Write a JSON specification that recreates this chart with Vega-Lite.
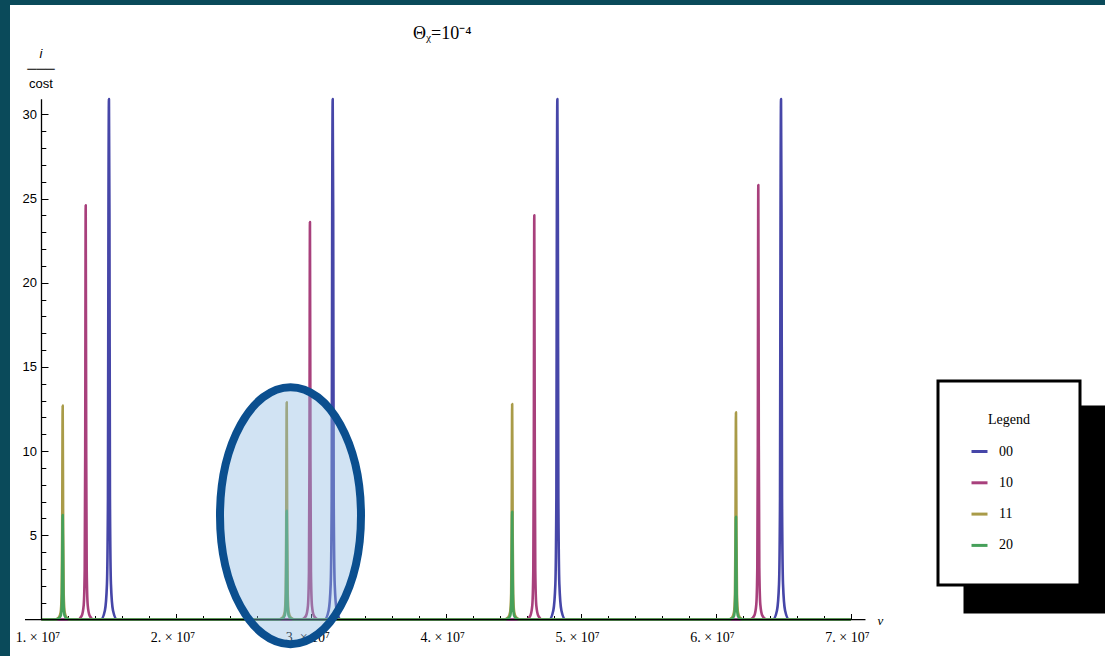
{
  "$schema": "https://vega.github.io/schema/vega-lite/v6.json",
  "width": 1095,
  "height": 651,
  "autosize": {"type": "none"},
  "padding": {"left": 10, "top": 5, "right": 0, "bottom": 0},
  "background": "#0a4a5a",
  "config": {
    "view": {"fill": "white", "stroke": null},
    "axis": {"labelColor": "black", "tickColor": "black", "titleColor": "black", "domainColor": "black", "grid": false},
    "legend": {
      "padding": 32,
      "strokeWidth": 3,
      "cornerRadius": 0,
      "titleFont": "Liberation Serif",
      "titleFontSize": 14,
      "titleFontWeight": "normal",
      "titleAnchor": "middle",
      "titlePadding": 15,
      "labelFont": "Liberation Serif",
      "labelFontSize": 14,
      "labelOffset": 10,
      "rowPadding": 14.3,
      "symbolSize": 256,
      "gradientVerticalMaxLength": 400
    }
  },
  "title": {
    "text": "Θᵪ=10⁻⁴",
    "anchor": "start",
    "frame": "group",
    "dx": 403,
    "offset": -52,
    "baseline": "alphabetic",
    "font": "Liberation Serif",
    "fontSize": 18,
    "fontWeight": "normal",
    "color": "black"
  },
  "resolve": {"axis": {"x": "independent", "y": "independent"}},
  "datasets": {
    "shadow": [{"v": 0}, {"v": 1}],
    "oval": [{"x": 2.8458e7, "y": 6.17}],
    "axes": [
      {"x": 0.8777e7, "x2": 7.108e7, "y": 0, "y2": 0},
      {"x": 1e7, "x2": 1e7, "y": 0, "y2": 30.9}
    ],
    "lines": [
      {"s": "00", "x": 1e7, "y": 0},
      {"s": "00", "x": 1.44e7, "y": 0},
      {"s": "00", "x": 1.47e7, "y": 0.54},
      {"s": "00", "x": 1.4852e7, "y": 2.1},
      {"s": "00", "x": 1.4926e7, "y": 7.2},
      {"s": "00", "x": 1.4963e7, "y": 24},
      {"s": "00", "x": 1.5e7, "y": 30.9},
      {"s": "00", "x": 1.5037e7, "y": 24},
      {"s": "00", "x": 1.5074e7, "y": 7.2},
      {"s": "00", "x": 1.5148e7, "y": 2.1},
      {"s": "00", "x": 1.53e7, "y": 0.54},
      {"s": "00", "x": 1.56e7, "y": 0},
      {"s": "00", "x": 3.0986e7, "y": 0},
      {"s": "00", "x": 3.1286e7, "y": 0.54},
      {"s": "00", "x": 3.1438e7, "y": 2.1},
      {"s": "00", "x": 3.1512e7, "y": 7.2},
      {"s": "00", "x": 3.1549e7, "y": 24},
      {"s": "00", "x": 3.1586e7, "y": 30.9},
      {"s": "00", "x": 3.1623e7, "y": 24},
      {"s": "00", "x": 3.166e7, "y": 7.2},
      {"s": "00", "x": 3.1734e7, "y": 2.1},
      {"s": "00", "x": 3.1886e7, "y": 0.54},
      {"s": "00", "x": 3.2186e7, "y": 0},
      {"s": "00", "x": 4.764e7, "y": 0},
      {"s": "00", "x": 4.794e7, "y": 0.54},
      {"s": "00", "x": 4.8092e7, "y": 2.1},
      {"s": "00", "x": 4.8166e7, "y": 7.2},
      {"s": "00", "x": 4.8203e7, "y": 24},
      {"s": "00", "x": 4.824e7, "y": 30.9},
      {"s": "00", "x": 4.8277e7, "y": 24},
      {"s": "00", "x": 4.8314e7, "y": 7.2},
      {"s": "00", "x": 4.8388e7, "y": 2.1},
      {"s": "00", "x": 4.854e7, "y": 0.54},
      {"s": "00", "x": 4.884e7, "y": 0},
      {"s": "00", "x": 6.422e7, "y": 0},
      {"s": "00", "x": 6.452e7, "y": 0.54},
      {"s": "00", "x": 6.4672e7, "y": 2.1},
      {"s": "00", "x": 6.4746e7, "y": 7.2},
      {"s": "00", "x": 6.4783e7, "y": 24},
      {"s": "00", "x": 6.482e7, "y": 30.9},
      {"s": "00", "x": 6.4857e7, "y": 24},
      {"s": "00", "x": 6.4894e7, "y": 7.2},
      {"s": "00", "x": 6.4968e7, "y": 2.1},
      {"s": "00", "x": 6.512e7, "y": 0.54},
      {"s": "00", "x": 6.542e7, "y": 0},
      {"s": "00", "x": 7e7, "y": 0},

      {"s": "10", "x": 1e7, "y": 0},
      {"s": "10", "x": 1.2677e7, "y": 0},
      {"s": "10", "x": 1.2977e7, "y": 0.22},
      {"s": "10", "x": 1.3129e7, "y": 0.86},
      {"s": "10", "x": 1.3203e7, "y": 2.95},
      {"s": "10", "x": 1.324e7, "y": 9.84},
      {"s": "10", "x": 1.3277e7, "y": 24.6},
      {"s": "10", "x": 1.3314e7, "y": 9.84},
      {"s": "10", "x": 1.3351e7, "y": 2.95},
      {"s": "10", "x": 1.3425e7, "y": 0.86},
      {"s": "10", "x": 1.3577e7, "y": 0.22},
      {"s": "10", "x": 1.3877e7, "y": 0},
      {"s": "10", "x": 2.93e7, "y": 0},
      {"s": "10", "x": 2.96e7, "y": 0.21},
      {"s": "10", "x": 2.9752e7, "y": 0.83},
      {"s": "10", "x": 2.9826e7, "y": 2.83},
      {"s": "10", "x": 2.9863e7, "y": 9.44},
      {"s": "10", "x": 2.99e7, "y": 23.6},
      {"s": "10", "x": 2.9937e7, "y": 9.44},
      {"s": "10", "x": 2.9974e7, "y": 2.83},
      {"s": "10", "x": 3.0048e7, "y": 0.83},
      {"s": "10", "x": 3.02e7, "y": 0.21},
      {"s": "10", "x": 3.05e7, "y": 0},
      {"s": "10", "x": 4.593e7, "y": 0},
      {"s": "10", "x": 4.623e7, "y": 0.22},
      {"s": "10", "x": 4.6382e7, "y": 0.84},
      {"s": "10", "x": 4.6456e7, "y": 2.88},
      {"s": "10", "x": 4.6493e7, "y": 9.6},
      {"s": "10", "x": 4.653e7, "y": 24},
      {"s": "10", "x": 4.6567e7, "y": 9.6},
      {"s": "10", "x": 4.6604e7, "y": 2.88},
      {"s": "10", "x": 4.6678e7, "y": 0.84},
      {"s": "10", "x": 4.683e7, "y": 0.22},
      {"s": "10", "x": 4.713e7, "y": 0},
      {"s": "10", "x": 6.2536e7, "y": 0},
      {"s": "10", "x": 6.2836e7, "y": 0.23},
      {"s": "10", "x": 6.2988e7, "y": 0.9},
      {"s": "10", "x": 6.3062e7, "y": 3.1},
      {"s": "10", "x": 6.3099e7, "y": 10.32},
      {"s": "10", "x": 6.3136e7, "y": 25.8},
      {"s": "10", "x": 6.3173e7, "y": 10.32},
      {"s": "10", "x": 6.321e7, "y": 3.1},
      {"s": "10", "x": 6.3284e7, "y": 0.9},
      {"s": "10", "x": 6.3436e7, "y": 0.23},
      {"s": "10", "x": 6.3736e7, "y": 0},
      {"s": "10", "x": 7e7, "y": 0},

      {"s": "11", "x": 1e7, "y": 0},
      {"s": "11", "x": 1.097e7, "y": 0},
      {"s": "11", "x": 1.127e7, "y": 0.11},
      {"s": "11", "x": 1.1422e7, "y": 0.44},
      {"s": "11", "x": 1.1496e7, "y": 1.52},
      {"s": "11", "x": 1.1533e7, "y": 5.08},
      {"s": "11", "x": 1.157e7, "y": 12.7},
      {"s": "11", "x": 1.1607e7, "y": 5.08},
      {"s": "11", "x": 1.1644e7, "y": 1.52},
      {"s": "11", "x": 1.1718e7, "y": 0.44},
      {"s": "11", "x": 1.187e7, "y": 0.11},
      {"s": "11", "x": 1.217e7, "y": 0},
      {"s": "11", "x": 2.7576e7, "y": 0},
      {"s": "11", "x": 2.7876e7, "y": 0.12},
      {"s": "11", "x": 2.8028e7, "y": 0.45},
      {"s": "11", "x": 2.8102e7, "y": 1.55},
      {"s": "11", "x": 2.8139e7, "y": 5.16},
      {"s": "11", "x": 2.8176e7, "y": 12.9},
      {"s": "11", "x": 2.8213e7, "y": 5.16},
      {"s": "11", "x": 2.825e7, "y": 1.55},
      {"s": "11", "x": 2.8324e7, "y": 0.45},
      {"s": "11", "x": 2.8476e7, "y": 0.12},
      {"s": "11", "x": 2.8776e7, "y": 0},
      {"s": "11", "x": 4.429e7, "y": 0},
      {"s": "11", "x": 4.459e7, "y": 0.12},
      {"s": "11", "x": 4.4742e7, "y": 0.45},
      {"s": "11", "x": 4.4816e7, "y": 1.54},
      {"s": "11", "x": 4.4853e7, "y": 5.12},
      {"s": "11", "x": 4.489e7, "y": 12.8},
      {"s": "11", "x": 4.4927e7, "y": 5.12},
      {"s": "11", "x": 4.4964e7, "y": 1.54},
      {"s": "11", "x": 4.5038e7, "y": 0.45},
      {"s": "11", "x": 4.519e7, "y": 0.12},
      {"s": "11", "x": 4.549e7, "y": 0},
      {"s": "11", "x": 6.088e7, "y": 0},
      {"s": "11", "x": 6.118e7, "y": 0.11},
      {"s": "11", "x": 6.1332e7, "y": 0.43},
      {"s": "11", "x": 6.1406e7, "y": 1.48},
      {"s": "11", "x": 6.1443e7, "y": 4.92},
      {"s": "11", "x": 6.148e7, "y": 12.3},
      {"s": "11", "x": 6.1517e7, "y": 4.92},
      {"s": "11", "x": 6.1554e7, "y": 1.48},
      {"s": "11", "x": 6.1628e7, "y": 0.43},
      {"s": "11", "x": 6.178e7, "y": 0.11},
      {"s": "11", "x": 6.208e7, "y": 0},
      {"s": "11", "x": 7e7, "y": 0},

      {"s": "20", "x": 1e7, "y": 0},
      {"s": "20", "x": 1.097e7, "y": 0},
      {"s": "20", "x": 1.127e7, "y": 0.06},
      {"s": "20", "x": 1.1422e7, "y": 0.22},
      {"s": "20", "x": 1.1496e7, "y": 0.74},
      {"s": "20", "x": 1.1533e7, "y": 2.48},
      {"s": "20", "x": 1.157e7, "y": 6.2},
      {"s": "20", "x": 1.1607e7, "y": 2.48},
      {"s": "20", "x": 1.1644e7, "y": 0.74},
      {"s": "20", "x": 1.1718e7, "y": 0.22},
      {"s": "20", "x": 1.187e7, "y": 0.06},
      {"s": "20", "x": 1.217e7, "y": 0},
      {"s": "20", "x": 2.7576e7, "y": 0},
      {"s": "20", "x": 2.7876e7, "y": 0.06},
      {"s": "20", "x": 2.8028e7, "y": 0.23},
      {"s": "20", "x": 2.8102e7, "y": 0.77},
      {"s": "20", "x": 2.8139e7, "y": 2.58},
      {"s": "20", "x": 2.8176e7, "y": 6.45},
      {"s": "20", "x": 2.8213e7, "y": 2.58},
      {"s": "20", "x": 2.825e7, "y": 0.77},
      {"s": "20", "x": 2.8324e7, "y": 0.23},
      {"s": "20", "x": 2.8476e7, "y": 0.06},
      {"s": "20", "x": 2.8776e7, "y": 0},
      {"s": "20", "x": 4.429e7, "y": 0},
      {"s": "20", "x": 4.459e7, "y": 0.06},
      {"s": "20", "x": 4.4742e7, "y": 0.22},
      {"s": "20", "x": 4.4816e7, "y": 0.77},
      {"s": "20", "x": 4.4853e7, "y": 2.56},
      {"s": "20", "x": 4.489e7, "y": 6.4},
      {"s": "20", "x": 4.4927e7, "y": 2.56},
      {"s": "20", "x": 4.4964e7, "y": 0.77},
      {"s": "20", "x": 4.5038e7, "y": 0.22},
      {"s": "20", "x": 4.519e7, "y": 0.06},
      {"s": "20", "x": 4.549e7, "y": 0},
      {"s": "20", "x": 6.088e7, "y": 0},
      {"s": "20", "x": 6.118e7, "y": 0.05},
      {"s": "20", "x": 6.1332e7, "y": 0.21},
      {"s": "20", "x": 6.1406e7, "y": 0.73},
      {"s": "20", "x": 6.1443e7, "y": 2.44},
      {"s": "20", "x": 6.148e7, "y": 6.1},
      {"s": "20", "x": 6.1517e7, "y": 2.44},
      {"s": "20", "x": 6.1554e7, "y": 0.73},
      {"s": "20", "x": 6.1628e7, "y": 0.21},
      {"s": "20", "x": 6.178e7, "y": 0.05},
      {"s": "20", "x": 6.208e7, "y": 0},
      {"s": "20", "x": 7e7, "y": 0}
    ]
  },
  "layer": [
    {
      "data": {"name": "shadow"},
      "mark": {"type": "point", "opacity": 0, "filled": true},
      "encoding": {
        "fill": {
          "field": "v",
          "type": "quantitative",
          "scale": {"range": ["black", "black"]},
          "legend": {
            "orient": "none",
            "direction": "vertical",
            "legendX": 955,
            "legendY": 402,
            "title": null,
            "values": [],
            "padding": 0,
            "gradientLength": 205,
            "gradientThickness": 139,
            "gradientStrokeColor": "black",
            "gradientStrokeWidth": 0,
            "fillColor": "black",
            "strokeColor": "black"
          }
        }
      }
    },
    {
      "data": {"name": "lines"},
      "mark": {"type": "line", "strokeWidth": 2.6, "clip": true, "interpolate": "monotone", "strokeJoin": "round"},
      "encoding": {
        "x": {
          "field": "x",
          "type": "quantitative",
          "scale": {"domain": [7665000, 88836000], "nice": false, "zero": false},
          "axis": {
            "orient": "bottom",
            "offset": -36.5,
            "values": [10000000, 20000000, 30000000, 40000000, 50000000, 60000000, 70000000],
            "domain": false,
            "ticks": false,
            "grid": false,
            "labelExpr": "format(datum.value / 10000000, 'd') + '. × 10⁷'",
            "labelFont": "Liberation Serif",
            "labelFontSize": 14,
            "labelBaseline": "alphabetic",
            "labelPadding": 22,
            "labelOffset": -4,
            "labelFlush": false,
            "labelOverlap": false,
            "title": null
          }
        },
        "y": {
          "field": "y",
          "type": "quantitative",
          "scale": {"domain": [-2.165, 36.49], "nice": false, "zero": false},
          "axis": {
            "orient": "left",
            "offset": -31.5,
            "values": [5, 10, 15, 20, 25, 30],
            "domain": false,
            "ticks": false,
            "grid": false,
            "labelFont": "Liberation Sans",
            "labelFontSize": 13,
            "labelPadding": 5,
            "labelBaseline": "middle",
            "labelFlush": false,
            "labelOverlap": false,
            "title": ["───", "cost"],
            "titleAngle": 0,
            "titleAlign": "center",
            "titleBaseline": "alphabetic",
            "titleX": -1,
            "titleY": 67,
            "titleFont": "Liberation Sans",
            "titleFontSize": 13,
            "titleFontWeight": "normal",
            "titleLineHeight": 15
          }
        },
        "stroke": {
          "field": "s",
          "type": "nominal",
          "scale": {"domain": ["00", "10", "11", "20"], "range": ["#4646a8", "#a8407c", "#a99b48", "#46a05a"]},
          "legend": {
            "orient": "none",
            "legendX": 928,
            "legendY": 376,
            "title": "Legend",
            "titleColor": "black",
            "labelColor": "black",
            "fillColor": "white",
            "strokeColor": "black",
            "symbolType": "stroke",
            "symbolStrokeWidth": 3,
            "labelExpr": "datum.label + '\u00a0\u00a0\u00a0\u00a0\u00a0\u00a0\u00a0\u00a0\u00a0\u00a0\u200b'"
          }
        }
      }
    },
    {
      "data": {"name": "axes"},
      "mark": {"type": "rule", "color": "black", "strokeWidth": 1.3},
      "encoding": {
        "x": {
          "field": "x",
          "type": "quantitative",
          "scale": {"domain": [7665000, 88836000], "nice": false, "zero": false},
          "axis": {
            "orient": "bottom",
            "offset": -36.5,
            "values": [12000000, 14000000, 16000000, 18000000, 20000000, 22000000, 24000000, 26000000, 28000000, 30000000, 32000000, 34000000, 36000000, 38000000, 40000000, 42000000, 44000000, 46000000, 48000000, 50000000, 52000000, 54000000, 56000000, 58000000, 60000000, 62000000, 64000000, 66000000, 68000000, 70000000],
            "domain": false,
            "labels": false,
            "grid": false,
            "ticks": true,
            "tickWidth": 1,
            "tickSize": {"condition": {"test": "datum.value % 10000000 === 0", "value": -6}, "value": -4},
            "title": "ν",
            "titleX": 870,
            "titleY": 1,
            "titleAngle": 0,
            "titleAlign": "center",
            "titleBaseline": "middle",
            "titleFont": "Liberation Serif",
            "titleFontStyle": "italic",
            "titleFontSize": 13,
            "titleFontWeight": "normal"
          }
        },
        "x2": {"field": "x2"},
        "y": {
          "field": "y",
          "type": "quantitative",
          "scale": {"domain": [-2.165, 36.49], "nice": false, "zero": false},
          "axis": {
            "orient": "left",
            "offset": -31.5,
            "values": [1, 2, 3, 4, 5, 6, 7, 8, 9, 10, 11, 12, 13, 14, 15, 16, 17, 18, 19, 20, 21, 22, 23, 24, 25, 26, 27, 28, 29, 30],
            "domain": false,
            "labels": false,
            "grid": false,
            "ticks": true,
            "tickWidth": 1,
            "tickSize": {"condition": {"test": "datum.value % 5 === 0", "value": -6.5}, "value": -4.3},
            "title": "i",
            "titleAngle": 0,
            "titleAlign": "center",
            "titleBaseline": "alphabetic",
            "titleX": -1,
            "titleY": 52,
            "titleFont": "Liberation Sans",
            "titleFontStyle": "italic",
            "titleFontSize": 13,
            "titleFontWeight": "normal"
          }
        },
        "y2": {"field": "y2"}
      }
    },
    {
      "data": {"name": "oval"},
      "mark": {
        "type": "point",
        "shape": "M0,-1C0.303,-1,0.5486,-0.5523,0.5486,0C0.5486,0.5523,0.303,1,0,1C-0.303,1,-0.5486,0.5523,-0.5486,0C-0.5486,-0.5523,-0.303,-1,0,-1Z",
        "size": 66049,
        "filled": true,
        "fill": "#8cb9e1",
        "fillOpacity": 0.4,
        "stroke": "#0b4f8f",
        "strokeWidth": 8,
        "strokeOpacity": 1,
        "opacity": 1
      },
      "encoding": {
        "x": {"field": "x", "type": "quantitative", "scale": {"domain": [7665000, 88836000], "nice": false, "zero": false}, "axis": null},
        "y": {"field": "y", "type": "quantitative", "scale": {"domain": [-2.165, 36.49], "nice": false, "zero": false}, "axis": null}
      }
    }
  ]
}
